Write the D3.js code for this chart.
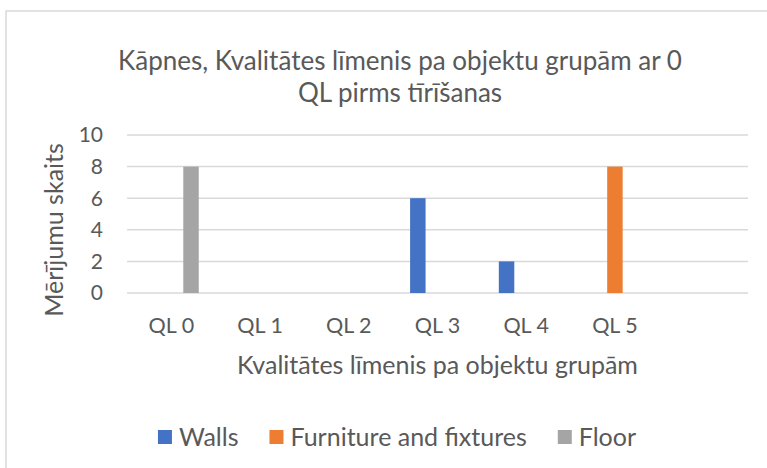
<!DOCTYPE html>
<html>
<head>
<meta charset="utf-8">
<script src="https://cdn.jsdelivr.net/npm/d3@7"></script>
<style>
  body { margin: 0; background: #fff; }
  svg text { font-family: Lato, "Open Sans", sans-serif; fill: #595959; }
</style>
</head>
<body>
<div id="chart"></div>
<script>
// data
var categories = ["QL 0", "QL 1", "QL 2", "QL 3", "QL 4", "QL 5", ""];
var seriesNames = ["Walls", "Furniture and fixtures", "Floor"];
var walls = [0, 0, 0, 6, 2, 0, 0];
var furniture = [0, 0, 0, 0, 0, 8, 0];
var floor = [8, 0, 0, 0, 0, 0, 0];
var yTicks = [0, 2, 4, 6, 8, 10];
var titleLines = ["Kāpnes, Kvalitātes līmenis pa objektu grupām ar 0", "QL pirms tīrīšanas"];
var colors = ["#4472C4", "#ED7D31", "#A5A5A5"];

var W = 767, H = 468;
var plot = {left: 127, right: 748, top: 135, bottom: 293};

var svg = d3.select("#chart").append("svg")
    .attr("width", W)
    .attr("height", H);

// chart area border (only left and top visible in the crop)
svg.append("rect")
    .attr("x", 6).attr("y", 11)
    .attr("width", 820).attr("height", 520)
    .attr("fill", "#fff")
    .attr("stroke", "#d9d9d9")
    .attr("stroke-width", 1.5);

var x = d3.scaleBand()
    .domain(categories)
    .range([plot.left, plot.right])
    .padding(0);

// bars inside a group: width ~15.5, centre step ~19.7
var xs = d3.scaleBand()
    .domain(seriesNames)
    .range([-27.4, 27.4])
    .paddingInner(0.213);

var y = d3.scaleLinear()
    .domain([0, 10])
    .range([plot.bottom, plot.top]);

// gridlines
svg.append("g").selectAll("line")
    .data(yTicks)
    .enter().append("line")
    .attr("x1", plot.left).attr("x2", plot.right)
    .attr("y1", function(d) { return y(d); })
    .attr("y2", function(d) { return y(d); })
    .attr("stroke", "#d9d9d9")
    .attr("stroke-width", 1.5);

// y tick labels
svg.append("g").selectAll("text")
    .data(yTicks)
    .enter().append("text")
    .attr("x", 103)
    .attr("y", function(d) { return y(d); })
    .attr("dy", "0.35em")
    .attr("text-anchor", "end")
    .style("font-size", "21px")
    .text(function(d) { return d; });

// x tick labels
svg.append("g").selectAll("text")
    .data(categories)
    .enter().append("text")
    .attr("x", function(d) { return x(d) + x.bandwidth() / 2; })
    .attr("y", 333)
    .attr("text-anchor", "middle")
    .style("font-size", "21.5px")
    .text(function(d) { return d; });

// bars
var series = [walls, furniture, floor];
series.forEach(function(vals, i) {
    svg.append("g").selectAll("rect")
        .data(vals.map(function(v, j) { return {cat: categories[j], value: v}; })
                  .filter(function(d) { return d.value > 0; }))
        .enter().append("rect")
        .attr("x", function(d) { return x(d.cat) + x.bandwidth() / 2 + xs(seriesNames[i]); })
        .attr("y", function(d) { return y(d.value); })
        .attr("width", xs.bandwidth())
        .attr("height", function(d) { return y(0) - y(d.value); })
        .attr("fill", colors[i]);
});

// title, two lines
svg.append("g").selectAll("text")
    .data(titleLines)
    .enter().append("text")
    .attr("x", 400)
    .attr("y", function(d, i) { return 70 + i * 31.5; })
    .attr("text-anchor", "middle")
    .style("font-size", "26px")
    .text(function(d) { return d; });

// axis titles
svg.append("text")
    .attr("x", (plot.left + plot.right) / 2)
    .attr("y", 374)
    .attr("text-anchor", "middle")
    .style("font-size", "25px")
    .text("Kvalitātes līmenis pa objektu grupām");

svg.append("text")
    .attr("transform", "translate(63,230) rotate(-90)")
    .attr("text-anchor", "middle")
    .style("font-size", "25px")
    .text("Mērījumu skaits");

// legend
var legend = svg.append("g");
var lx = 0;
seriesNames.forEach(function(name, i) {
    var g = legend.append("g").attr("transform", "translate(" + lx + ",0)");
    g.append("rect")
        .attr("x", 0).attr("y", -7)
        .attr("width", 14).attr("height", 14)
        .attr("fill", colors[i]);
    var t = g.append("text")
        .attr("x", 21).attr("y", 0)
        .attr("dy", "0.35em")
        .style("font-size", "25px")
        .text(name);
    lx += 21 + t.node().getComputedTextLength() + 31;
});
var legendWidth = lx - 31;
legend.attr("transform", "translate(" + (397 - legendWidth / 2) + ",437)");
</script>
</body>
</html>
